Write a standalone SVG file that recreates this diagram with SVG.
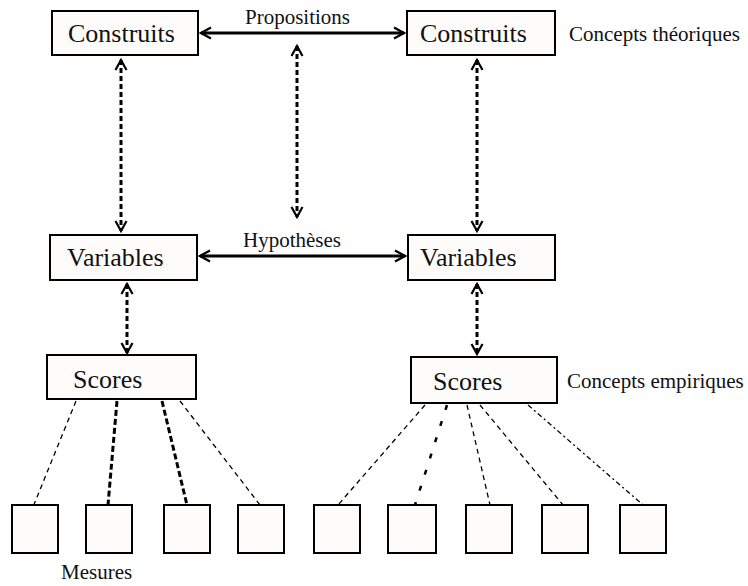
<svg xmlns="http://www.w3.org/2000/svg" width="748" height="586" viewBox="0 0 748 586">
<defs>
<marker id="ah" viewBox="-12 -7 14 14" refX="0" refY="0" markerWidth="14" markerHeight="14" markerUnits="userSpaceOnUse" orient="auto-start-reverse">
<path d="M -10 -5.5 L 0 0 L -10 5.5" fill="none" stroke="#000" stroke-width="2.2"/>
</marker>
</defs>
<style>
.box{fill:#fdfcfa;stroke:#000;stroke-width:2}
.big{font-family:"Liberation Serif","Times New Roman",serif;font-size:26px;fill:#111}
.sm{font-family:"Liberation Serif","Times New Roman",serif;font-size:21px;fill:#111}
.solid{stroke:#000;stroke-width:3;fill:none}
.vd{stroke:#000;stroke-width:3;stroke-dasharray:5 3;fill:none}
.thin{stroke:#000;stroke-width:1.3;stroke-dasharray:5 4;fill:none}
.thick{stroke:#000;stroke-width:3;stroke-dasharray:6 3;fill:none}
.sparse{stroke:#000;stroke-width:2.5;stroke-dasharray:5 12;fill:none}
.dd{stroke:#000;stroke-width:1.3;stroke-dasharray:5 3 2 3;fill:none}
</style>
<g id="connectors">
<line class="solid" x1="201" y1="33" x2="404" y2="33" marker-start="url(#ah)" marker-end="url(#ah)"/>
<line class="solid" x1="200" y1="256" x2="405" y2="256" marker-start="url(#ah)" marker-end="url(#ah)"/>
<line class="vd" x1="121" y1="60" x2="121" y2="231" marker-start="url(#ah)" marker-end="url(#ah)"/>
<line class="vd" x1="297" y1="46" x2="297" y2="217" marker-start="url(#ah)" marker-end="url(#ah)"/>
<line class="vd" x1="477" y1="60" x2="477" y2="231" marker-start="url(#ah)" marker-end="url(#ah)"/>
<line class="vd" x1="127" y1="284" x2="127" y2="353" marker-start="url(#ah)" marker-end="url(#ah)"/>
<line class="vd" x1="477" y1="284" x2="477" y2="354" marker-start="url(#ah)" marker-end="url(#ah)"/>
<line class="thin" x1="76" y1="401" x2="33" y2="507"/>
<line class="thick" x1="117" y1="401" x2="108" y2="505"/>
<line class="thick" x1="162" y1="401" x2="187" y2="505"/>
<line class="thin" x1="180" y1="401" x2="260" y2="505"/>
<line class="thin" x1="425" y1="405" x2="338" y2="505"/>
<line class="sparse" x1="447" y1="405" x2="415" y2="505"/>
<line class="thin" x1="467" y1="405" x2="490" y2="505"/>
<line class="thin" x1="480" y1="405" x2="563" y2="505"/>
<line class="dd" x1="528" y1="405" x2="643" y2="505"/>
</g>
<g id="construits-1"><rect class="box" x="52" y="11" width="146" height="44"/><text class="big" x="68" y="42">Construits</text></g>
<g id="construits-2"><rect class="box" x="407" y="11" width="148" height="44"/><text class="big" x="420" y="42">Construits</text></g>
<g id="variables-1"><rect class="box" x="50" y="235" width="147" height="45"/><text class="big" x="67" y="266">Variables</text></g>
<g id="variables-2"><rect class="box" x="408" y="235" width="147" height="45"/><text class="big" x="420" y="266">Variables</text></g>
<g id="scores-1"><rect class="box" x="47" y="355" width="149" height="44"/><text class="big" x="73" y="388">Scores</text></g>
<g id="scores-2"><rect class="box" x="411" y="357" width="146" height="46"/><text class="big" x="433" y="390">Scores</text></g>
<g id="labels">
<text class="sm" x="245" y="24">Propositions</text>
<text class="sm" x="243" y="247">Hypothèses</text>
<text class="sm" x="569" y="41">Concepts théoriques</text>
<text class="sm" x="567" y="388">Concepts empiriques</text>
<text class="sm" x="61" y="579">Mesures</text>
</g>
<g id="m1"><rect class="box" x="12" y="505" width="46" height="48"/></g>
<g id="m2"><rect class="box" x="86" y="505" width="46" height="48"/></g>
<g id="m3"><rect class="box" x="164" y="505" width="46" height="48"/></g>
<g id="m4"><rect class="box" x="238" y="505" width="46" height="48"/></g>
<g id="m5"><rect class="box" x="314" y="505" width="46" height="48"/></g>
<g id="m6"><rect class="box" x="388" y="505" width="48" height="48"/></g>
<g id="m7"><rect class="box" x="466" y="505" width="46" height="48"/></g>
<g id="m8"><rect class="box" x="542" y="505" width="46" height="48"/></g>
<g id="m9"><rect class="box" x="620" y="505" width="46" height="48"/></g>
</svg>
